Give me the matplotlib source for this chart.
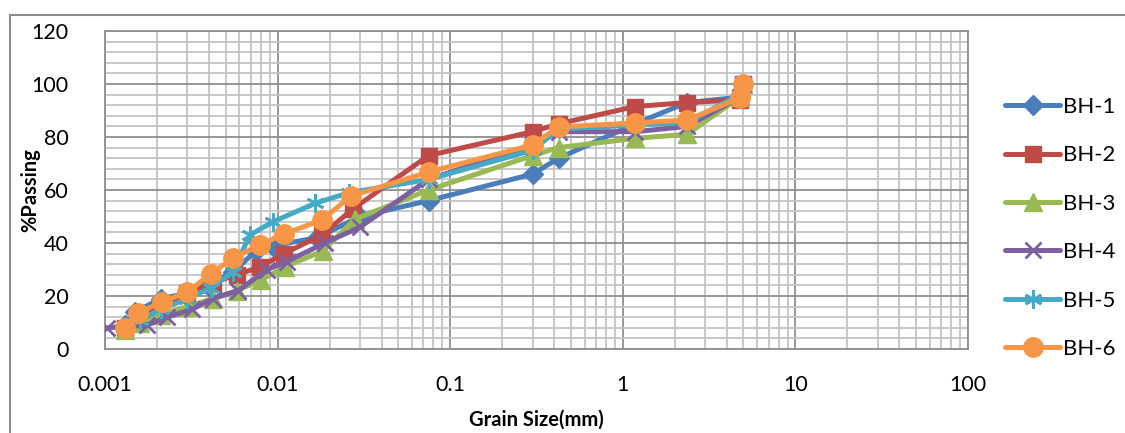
import matplotlib
matplotlib.use("Agg")
import matplotlib.pyplot as plt
from matplotlib.patches import Rectangle
from matplotlib.ticker import LogLocator, MultipleLocator, FixedLocator, FixedFormatter, NullFormatter

plt.rcParams['font.family'] = ['Lato', 'DejaVu Sans']

# ---- data (grain size in mm, % passing) ----
bh1_x = [0.00131, 0.0015, 0.0021, 0.0030, 0.0041, 0.0055, 0.0075, 0.0094, 0.017, 0.030, 0.075, 0.3, 0.425, 1.18, 2.36, 4.75, 5.0]
bh1_y = [9, 14, 19, 21, 25, 29, 37, 39, 42, 50, 56, 66, 72, 85, 93, 95, 100]

bh2_x = [0.00131, 0.0016, 0.0021, 0.0030, 0.0042, 0.0058, 0.0079, 0.0109, 0.018, 0.0275, 0.075, 0.3, 0.425, 1.18, 2.36, 4.75, 5.0]
bh2_y = [8, 12, 16, 21, 25, 28, 31, 36, 43, 53, 73, 82, 85, 91.5, 93, 94, 100]

bh3_x = [0.00131, 0.0016, 0.0021, 0.0030, 0.0042, 0.0058, 0.0080, 0.0110, 0.0183, 0.028, 0.075, 0.3, 0.425, 1.18, 2.36, 4.75, 5.0]
bh3_y = [7, 10, 13, 16, 19, 22, 26, 31, 37, 49, 60, 73, 76, 79.5, 81, 95, 100]

bh4_x = [0.00103, 0.00175, 0.0023, 0.0032, 0.0042, 0.0059, 0.0087, 0.0113, 0.0188, 0.030, 0.075, 0.3, 0.425, 1.18, 2.36, 4.75, 5.0]
bh4_y = [8, 9, 12, 15, 19, 22, 30, 33, 40, 46, 64, 77, 82, 82, 84, 95, 100]

bh5_x = [0.00131, 0.0016, 0.0021, 0.0030, 0.0041, 0.0055, 0.0069, 0.0094, 0.0165, 0.026, 0.075, 0.3, 0.425, 1.18, 2.36, 4.75]
bh5_y = [8, 11, 15, 19, 23, 29, 43, 48, 55, 59, 64, 75, 83, 84.5, 85.5, 96]

bh6_x = [0.00131, 0.00155, 0.00214, 0.0030, 0.0041, 0.0055, 0.0079, 0.0109, 0.0181, 0.0266, 0.075, 0.3, 0.425, 1.18, 2.36, 4.75, 5.0]
bh6_y = [8, 13.6, 17.7, 21.5, 28.3, 34.3, 39.2, 43.4, 48.7, 57.7, 66.8, 77, 83.8, 85.3, 86.4, 94.7, 100]

series_names = ['BH-1', 'BH-2', 'BH-3', 'BH-4', 'BH-5', 'BH-6']
y_ticks = [0, 20, 40, 60, 80, 100, 120]
x_ticks = [0.001, 0.01, 0.1, 1, 10, 100]
x_tick_labels = ['0.001', '0.01', '0.1', '1', '10', '100']

W, H = 1125, 433
fig = plt.figure(figsize=(W / 100, H / 100), dpi=100)
ax = fig.add_axes([105 / W, 1 - 349 / H, (968 - 105) / W, (349 - 31) / H])

styles = [
    dict(color='#4A7EBB', marker='D', ms=10),
    dict(color='#BE4B48', marker='s', ms=12),
    dict(color='#98B954', marker='^', ms=13),
    dict(color='#7D60A0', marker='x', ms=11, mew=2),
    dict(color='#46AAC5', marker=(6, 2, 0), ms=13, mew=2),
    dict(color='#F79646', marker='o', ms=14),
]
data = [(bh1_x, bh1_y), (bh2_x, bh2_y), (bh3_x, bh3_y), (bh4_x, bh4_y), (bh5_x, bh5_y), (bh6_x, bh6_y)]
for (xs, ys), name, st in zip(data, series_names, styles):
    ax.plot(xs, ys, lw=3.6, label=name, solid_capstyle='round', zorder=3,
            markeredgecolor=st['color'], **st)

ax.set_xscale('log')
ax.set_xlim(0.001, 100)
ax.set_ylim(0, 120)
ax.xaxis.set_major_locator(FixedLocator(x_ticks))
ax.xaxis.set_major_formatter(FixedFormatter(x_tick_labels))
ax.xaxis.set_minor_locator(LogLocator(base=10, subs=range(2, 10), numticks=20))
ax.xaxis.set_minor_formatter(NullFormatter())
ax.yaxis.set_major_locator(FixedLocator(y_ticks))
ax.yaxis.set_minor_locator(MultipleLocator(4))

ax.grid(which='minor', color='#c4c4c4', lw=1.3, zorder=0)
ax.grid(which='major', color='#8f8f8f', lw=1.3, zorder=0)
ax.set_axisbelow(True)
for s in ax.spines.values():
    s.set_color('#8f8f8f')
    s.set_linewidth(1.3)
ax.tick_params(which='both', length=0, labelsize=15.5, colors='black')
ax.tick_params(axis='x', pad=19)
ax.tick_params(axis='y', pad=26)

ax.set_xlabel('Grain Size(mm)', fontsize=14.5, fontweight='bold')
ax.xaxis.set_label_coords(0.5, -0.192)
ax.set_ylabel('%Passing', fontsize=14.5, fontweight='bold')
ax.yaxis.set_label_coords(-0.075, 0.5)

leg = ax.legend(loc='upper left', bbox_to_anchor=(996 / W, 1 - 88 / H), bbox_transform=fig.transFigure,
                frameon=False, fontsize=16, handlelength=2.5, labelspacing=1.28,
                handletextpad=0.1, borderaxespad=0)

fig.add_artist(Rectangle((10 / W, -0.1), 1.2, (H - 15) / H + 0.1, transform=fig.transFigure,
                         fill=False, edgecolor='#8c8c8c', lw=1.5))

fig.savefig('out.png', dpi=100)
